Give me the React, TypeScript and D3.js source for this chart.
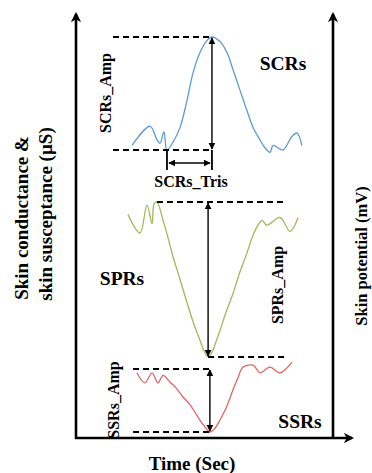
import * as d3 from 'd3'

// time axis (s)
const timeDomain = [0, 10]

// SCRs: skin conductance response (normalised µS)
const scrTime = [2.18, 2.88, 3.15, 3.27, 3.42, 3.54, 3.8, 4.05, 4.32, 4.55, 4.82, 5.1, 5.29, 5.6, 5.88, 6.11, 6.38, 6.65, 6.89, 7.16, 7.35, 7.55, 7.67, 8.05, 8.4, 8.6, 8.79]
const scrValue = [0.04, 0.21, 0.09, 0.06, 0.16, 0.0, 0.08, 0.2, 0.44, 0.68, 0.86, 0.97, 1.0, 0.96, 0.86, 0.71, 0.53, 0.35, 0.2, 0.09, 0.02, -0.02, 0.04, 0.0, 0.12, 0.15, 0.04]

// SPRs: skin potential response (normalised mV)
const sprTime = [2.02, 2.49, 2.76, 2.96, 3.04, 3.15, 3.39, 3.58, 3.77, 4.05, 4.32, 4.59, 4.82, 4.98, 5.14, 5.29, 5.45, 5.6, 5.84, 6.11, 6.38, 6.65, 6.85, 7.04, 7.24, 7.43, 7.94, 8.33, 8.64]
const sprValue = [-0.08, -0.2, -0.02, -0.14, -0.01, 0, -0.12, -0.23, -0.35, -0.5, -0.65, -0.79, -0.89, -0.96, -1.0, -0.97, -0.9, -0.83, -0.71, -0.59, -0.45, -0.33, -0.23, -0.16, -0.12, -0.15, -0.1, -0.19, -0.1]

// SSRs: skin susceptance response (normalised µS)
const ssrTime = [2.37, 2.68, 2.96, 3.19, 3.39, 3.66, 3.89, 4.16, 4.44, 4.82, 4.98, 5.21, 5.41, 5.6, 5.84, 6.11, 6.3, 6.5, 6.89, 7.16, 7.55, 7.94, 8.4]
const ssrValue = [-0.06, -0.22, -0.06, -0.22, -0.1, -0.21, -0.3, -0.44, -0.57, -0.81, -0.9, -1.0, -0.94, -0.81, -0.62, -0.33, -0.14, 0.03, 0.06, -0.06, 0.03, -0.06, 0.11]

// feature markers (s)
const scrOnset = 3.54
const scrPeak = 5.29
const scrDashStart = 1.44
const sprPeak = 5.14
const sprDashRange = [3.15, 8.21]
const ssrPeak = 5.21
const ssrDashStart = 2.22

const W = 372
const H = 473
const axisLeft = 76
const axisRight = 333
const axisBottom = 438
const axisTop = 12

const font = '"Liberation Serif", "Times New Roman", serif'

export default function App() {
  const x = d3.scaleLinear().domain(timeDomain).range([axisLeft, axisRight])
  const yScr = d3.scaleLinear().domain([0, 1]).range([150, 37])
  const ySpr = d3.scaleLinear().domain([-1, 0]).range([357, 202])
  const ySsr = d3.scaleLinear().domain([-1, 0]).range([432, 369])

  const mk = (ys: d3.ScaleLinear<number, number>) =>
    d3.line<[number, number]>()
      .x(d => x(d[0]))
      .y(d => ys(d[1]))
      .curve(d3.curveCatmullRom.alpha(0.5))

  const scrPath = mk(yScr)(scrTime.map((t, i) => [t, scrValue[i]]))
  const sprPath = mk(ySpr)(sprTime.map((t, i) => [t, sprValue[i]]))
  const ssrPath = mk(ySsr)(ssrTime.map((t, i) => [t, ssrValue[i]]))

  const dash = { stroke: '#000', strokeWidth: 1.8, strokeDasharray: '6,4' }

  const vArrow = (xp: number, y1: number, y2: number) => (
    <line x1={xp} x2={xp} y1={y1 + 1} y2={y2 - 1} stroke="#000" strokeWidth={1.4}
      markerStart="url(#ah)" markerEnd="url(#ah)" />
  )

  return (
    <svg width={W} height={H} style={{ position: 'absolute', left: 0, top: 0, background: '#fff' }}>
      <defs>
        <marker id="ah" viewBox="0 0 10 10" refX="9" refY="5" markerWidth="5" markerHeight="5" orient="auto-start-reverse">
          <path d="M0,0 L10,5 L0,10 z" fill="#000" />
        </marker>
        <marker id="axh" viewBox="0 0 10 10" refX="8" refY="5" markerWidth="4" markerHeight="4" orient="auto">
          <path d="M0,0 L10,5 L0,10 L3,5 z" fill="#000" />
        </marker>
      </defs>

      {/* axes */}
      <line x1={axisLeft} x2={axisLeft} y1={axisBottom + 1} y2={axisTop + 2} stroke="#000" strokeWidth={2.6} markerEnd="url(#axh)" />
      <line x1={axisRight} x2={axisRight} y1={axisBottom} y2={axisTop + 2} stroke="#000" strokeWidth={2.6} markerEnd="url(#axh)" />
      <line x1={axisLeft - 1} x2={352} y1={axisBottom} y2={axisBottom} stroke="#000" strokeWidth={2.6} markerEnd="url(#axh)" />

      {/* SCRs */}
      <path d={scrPath ?? ''} fill="none" stroke="#5b9bd5" strokeWidth={1.3} />
      <line x1={x(scrDashStart)} x2={x(scrPeak)} y1={yScr(1)} y2={yScr(1)} {...dash} />
      <line x1={x(scrDashStart)} x2={x(scrPeak)} y1={yScr(0)} y2={yScr(0)} {...dash} />
      {vArrow(x(scrPeak), yScr(1), yScr(0))}
      <line x1={x(scrOnset)} x2={x(scrOnset)} y1={yScr(0)} y2={170} stroke="#000" strokeWidth={1.8} />
      <line x1={x(scrPeak)} x2={x(scrPeak)} y1={yScr(0)} y2={170} stroke="#000" strokeWidth={1.8} />
      <line x1={x(scrOnset) + 2} x2={x(scrPeak) - 2} y1={163} y2={163} stroke="#000" strokeWidth={1.4}
        markerStart="url(#ah)" markerEnd="url(#ah)" />

      {/* SPRs */}
      <path d={sprPath ?? ''} fill="none" stroke="#9bbb59" strokeWidth={1.3} />
      <line x1={x(sprDashRange[0])} x2={x(sprDashRange[1])} y1={ySpr(0)} y2={ySpr(0)} {...dash} />
      <line x1={x(sprPeak)} x2={x(sprDashRange[1])} y1={ySpr(-1)} y2={ySpr(-1)} {...dash} />
      {vArrow(x(sprPeak), ySpr(0), ySpr(-1))}

      {/* SSRs */}
      <path d={ssrPath ?? ''} fill="none" stroke="#e06666" strokeWidth={1.3} />
      <line x1={x(ssrDashStart)} x2={x(ssrPeak)} y1={ySsr(0)} y2={ySsr(0)} {...dash} />
      <line x1={x(ssrDashStart)} x2={x(ssrPeak)} y1={ySsr(-1)} y2={ySsr(-1)} {...dash} />
      {vArrow(x(ssrPeak), ySsr(0), ySsr(-1))}

      {/* labels */}
      <g fontFamily={font} fontWeight="bold" fill="#000">
        <text x={283} y={70} fontSize={19.5} textAnchor="middle">SCRs</text>
        <text x={122} y={285} fontSize={19.5} textAnchor="middle">SPRs</text>
        <text x={300} y={428} fontSize={19.5} textAnchor="middle">SSRs</text>
        <text x={191} y={187} fontSize={16} textAnchor="middle">SCRs_Tris</text>
        <text transform="translate(105,93) rotate(-90)" fontSize={16} textAnchor="middle" dominantBaseline="central">SCRs_Amp</text>
        <text transform="translate(277,285) rotate(-90)" fontSize={16} textAnchor="middle" dominantBaseline="central">SPRs_Amp</text>
        <text transform="translate(113,400) rotate(-90)" fontSize={16} textAnchor="middle" dominantBaseline="central">SSRs_Amp</text>
        <text x={192} y={470} fontSize={19} textAnchor="middle">Time (Sec)</text>
        <text transform="translate(21,218) rotate(-90)" fontSize={19} textAnchor="middle" dominantBaseline="central">Skin conductance &amp;</text>
        <text transform="translate(45,214) rotate(-90)" fontSize={19} textAnchor="middle" dominantBaseline="central">skin susceptance (µS)</text>
        <text transform="translate(361,256) rotate(-90)" fontSize={16.5} textAnchor="middle" dominantBaseline="central">Skin potential (mV)</text>
      </g>
    </svg>
  )
}
